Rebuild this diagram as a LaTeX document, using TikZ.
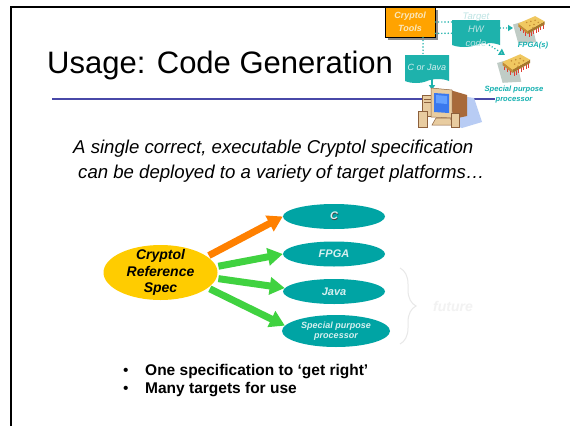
\documentclass[tikz,border=0pt]{standalone}
\usepackage{fontspec}
\setmainfont{Liberation Sans}
\usetikzlibrary{arrows.meta,shapes.geometric,shapes.symbols,decorations.pathreplacing,shadows,calc}

\definecolor{specgold}{RGB}{255,204,0}
\definecolor{targetteal}{RGB}{0,164,164}
\definecolor{boxteal}{RGB}{30,178,172}
\definecolor{paletext}{RGB}{214,240,240}
\definecolor{hwtext}{RGB}{190,228,228}
\definecolor{flowgreen}{RGB}{64,210,64}
\definecolor{floworange}{RGB}{255,128,0}
\definecolor{ruleblue}{RGB}{72,72,168}
\definecolor{toolsorange}{RGB}{255,163,0}
\definecolor{toolstext}{RGB}{250,232,190}
\definecolor{bracegray}{RGB}{232,232,232}
\definecolor{futuregray}{RGB}{242,242,242}
\definecolor{chipgold}{RGB}{240,200,96}
\definecolor{chipdark}{RGB}{196,140,52}
\definecolor{chippin}{RGB}{222,64,52}
\definecolor{chipsheet}{RGB}{192,204,198}
\definecolor{labelteal}{RGB}{20,176,176}
\definecolor{pcshade}{RGB}{184,204,244}
\definecolor{pcbrown}{RGB}{168,106,58}
\definecolor{pcbeige}{RGB}{232,204,160}
\definecolor{pcedge}{RGB}{140,96,60}
\definecolor{pcscreen}{RGB}{58,120,238}
\definecolor{pcscreenlight}{RGB}{100,160,255}

\tikzset{
  target/.style={ellipse, fill=targetteal, minimum width=102pt, minimum height=25pt,
    inner sep=0pt, text=paletext, font=\fontsize{11}{13}\selectfont\bfseries\itshape, align=center},
  flow/.style={line width=7pt, -{Triangle[length=15pt,width=17pt]}, shorten <=2pt},
  docbox/.style={tape, tape bend top=none, tape bend height=4pt, fill=boxteal, draw=none, inner sep=0pt},
  dotlink/.style={boxteal, line width=1.6pt, dash pattern=on 0pt off 3.2pt, line cap=round},
  chiplabel/.style={text=labelteal, font=\fontsize{7.6}{10}\selectfont\bfseries\itshape, align=center, inner sep=0pt},
  chip/.pic={
    \fill[chipsheet] (1,10) -- (18,5) -- (23,27) -- (6,28) -- cycle;
    \fill[chipdark] (6,9) -- (15,16) -- (15,19) -- (6,12) -- cycle;
    \fill[chipdark!85!black] (15,16) -- (31,7) -- (31,10) -- (15,19) -- cycle;
    \fill[chipgold] (6,9) -- (22,2) -- (31,7) -- (15,16) -- cycle;
    \foreach \t in {0.08,0.22,0.36,0.5,0.64,0.78,0.92}
      \draw[chippin, line width=0.8pt] ($(15,19)!\t!(31,10)$) -- ++(0,3.5);
    \foreach \t in {0.2,0.5,0.8}
      \draw[chippin, line width=0.8pt] ($(6,12)!\t!(15,19)$) -- ++(0,3);
    \foreach \p in {(14,8),(18,7),(22,6),(17,11),(21,10),(25,8),(20,13)}
      \fill[chipdark] \p circle (0.8);
  }
}

\begin{document}
\begin{tikzpicture}[x=1pt,y=-1pt]
\useasboundingbox (0,0) rectangle (570,426);
\fill[white] (0,0) rectangle (570,426);

% slide frame
\draw[line width=2pt] (11,426) -- (11,7) -- (570,7);

% heading and rule
\node[anchor=base west, inner sep=0pt, font=\fontsize{31}{36}\selectfont] (title) at (47,73) {Usage: Code Generation};
\coordinate (ruleL) at (52,99);
\coordinate (ruleR) at (495,99);
\draw[ruleblue, line width=1.4pt] (ruleL) -- (ruleR);

% lead-in sentence
\node[anchor=base west, inner sep=0pt, font=\fontsize{18.6}{22}\selectfont\itshape] (sub1) at (73,153)
  {A single correct, executable Cryptol specification};
\node[anchor=base west, inner sep=0pt, font=\fontsize{18.6}{22}\selectfont\itshape] (sub2) at (78,178)
  {can be deployed to a variety of target platforms…};

% reference specification and its targets
\node[ellipse, fill=specgold, minimum width=114pt, minimum height=55pt, inner sep=0pt,
  label={[align=center, inner sep=0pt, font=\fontsize{14}{16.5}\selectfont\bfseries\itshape]center:Cryptol\\Reference\\Spec}]
  (spec) at (160.5,272.5) {};

\node[target] (c) at (334,216.5) {\makebox[0pt][l]{\hspace{0.7pt}\raisebox{-0.7pt}{\color{black!75}C}}C};
\node[target] (fpga) at (334,254) {FPGA};
\node[target] (java) at (334,291.5) {Java};
\node[target, minimum width=108pt, minimum height=32pt, font=\fontsize{9}{10.5}\selectfont\bfseries\itshape]
  (spp) at (336,331) {Special purpose\\processor};

\draw[flow, floworange] (spec.19) -- (c.west);
\draw[flow, flowgreen] (spec.6) -- (fpga.west);
\draw[flow, flowgreen] (spec.-6) -- (java.176);
\draw[flow, flowgreen] (spec.-18) -- (spp.174);

% later targets
\coordinate (futtop) at (400,268);
\coordinate (futbot) at (400,344);
\draw[bracegray, line width=1pt, decorate, decoration={brace, amplitude=16pt}] (futtop) -- (futbot);
\node[font=\fontsize{14}{16}\selectfont\bfseries\itshape, text=futuregray] (future) at (453,306) {future};

% bullets
\node[anchor=base west, inner sep=0pt, font=\fontsize{15.5}{18}\selectfont\bfseries] (b1) at (123,375)
  {\makebox[22pt][l]{\mdseries •}One specification to ‘get right’};
\node[anchor=base west, inner sep=0pt, font=\fontsize{15.5}{18}\selectfont\bfseries] (b2) at (123,393)
  {\makebox[22pt][l]{\mdseries •}Many targets for use};

% tool flow sketch
\node[fill=toolsorange, draw=black, line width=0.8pt, minimum width=50pt, minimum height=30pt, inner sep=0pt,
  drop shadow={shadow xshift=3pt, shadow yshift=-3pt, fill=black!45, opacity=1},
  align=center, text=toolstext, font=\fontsize{9}{13}\selectfont\bfseries\itshape] (tools) at (410,22) {Cryptol\\Tools};

\pic[scale=1.05] at (512,14) {chip};
\pic[scale=1.1] at (496,52) {chip};
\coordinate (fpgachip) at (513,28);
\coordinate (spchip) at (505,55);
\coordinate (hwbend) at (470,33);

\draw[dotlink, -{Triangle[length=6pt,width=7pt,fill=hwtext]}] ([yshift=4pt]tools.south east) -- (hwbend) -- (spchip);

\node[docbox, minimum width=48pt, minimum height=27pt,
  label={[text=hwtext, align=center, inner sep=0pt, font=\fontsize{9.5}{13.5}\selectfont\itshape, yshift=2pt]center:Target\\HW\\code}]
  (hw) at (476,31.5) {};
\node[docbox, minimum width=44pt, minimum height=28pt, text=paletext, font=\fontsize{9}{11}\selectfont\itshape]
  (cj) at (427,67) {C or Java};

\draw[dotlink] (tools.east) -- (tools.east -| hw.west);
\draw[dotlink] ([xshift=13pt]tools.south) -- ([xshift=13pt]tools.south |- cj.north);
\draw[dotlink, -{Triangle[length=5pt,width=6pt,fill=boxteal]}] (hw.east |- fpgachip) -- (fpgachip);

\coordinate (pc) at (432,90);
\draw[boxteal, line width=1.5pt, -{Triangle[length=5pt,width=6pt]}] ([xshift=5pt]cj.south) -- (pc);

\node[chiplabel] (fpgalabel) at (533,46) {FPGA(s)};
\node[chiplabel] (splabel) at (514,95) {Special purpose\\processor};

% desktop computer
\fill[pcshade] (455,95) -- (474,98) -- (482,122) -- (462,128) -- (452,124) -- cycle;
\fill[pcbrown] (450,90) -- (467,95) -- (467,116) -- (453,119) -- cycle;
\filldraw[fill=pcbeige, draw=pcedge, line width=0.5pt] (422,95) rectangle (433,116);
\draw[pcedge, line width=0.5pt] (424,99) -- (431,99) (424,102) -- (431,102);
\filldraw[fill=pcbeige, draw=pcedge, line width=0.5pt] (431,88) -- (452,90) -- (452,118) -- (431,117) -- cycle;
\fill[pcscreen] (434,93) -- (449,94) -- (449,113) -- (434,112) -- cycle;
\fill[pcscreenlight] (436,95) -- (447,96) -- (447,104) -- (436,103) -- cycle;
\filldraw[fill=pcbeige, draw=pcedge, line width=0.5pt] (436,118) -- (450,118) -- (454,125) -- (432,125) -- cycle;
\filldraw[fill=pcbeige, draw=pcedge, line width=0.5pt] (418,111) rectangle (427,127);
\filldraw[fill=pcbeige, draw=pcedge, line width=0.5pt] (451,113) rectangle (459,127);
\end{tikzpicture}
\end{document}
